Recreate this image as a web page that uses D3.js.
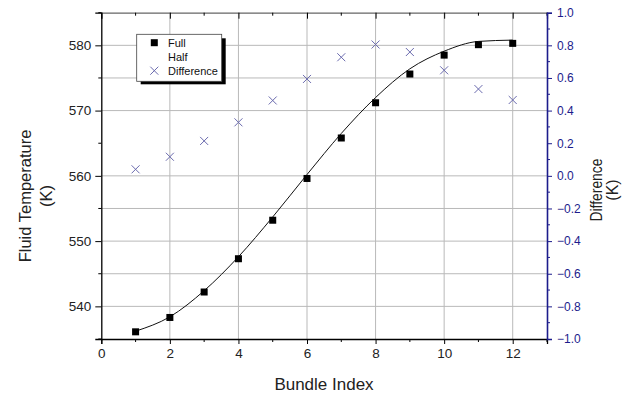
<!DOCTYPE html>
<html>
<head>
<meta charset="utf-8">
<script src="https://cdn.jsdelivr.net/npm/d3@7"></script>
<style>
  body { margin: 0; background: #fff; }
  svg { display: block; font-family: Arial, "Liberation Sans", sans-serif; }
</style>
</head>
<body>
<svg id="chart" width="631" height="395"></svg>
<script>
// values
const bundles = [1, 2, 3, 4, 5, 6, 7, 8, 9, 10, 11, 12];
const fullTemp = [536.1, 538.3, 542.2, 547.3, 553.2, 559.6, 565.8, 571.2, 575.6, 578.5, 580.1, 580.3];
const halfTemp = [536.2, 538.4, 542.4, 547.6, 553.7, 560.2, 566.5, 572.0, 576.4, 579.1, 580.6, 580.8];
const difference = [0.04, 0.117, 0.214, 0.328, 0.462, 0.594, 0.727, 0.805, 0.759, 0.647, 0.532, 0.465];

const xTicks = [0, 2, 4, 6, 8, 10, 12];
const xMinor = [1, 3, 5, 7, 9, 11, 13];
const leftTicks = [540, 550, 560, 570, 580];
const leftMinor = [535, 545, 555, 565, 575, 585];
const rightTicks = [-1.0, -0.8, -0.6, -0.4, -0.2, 0.0, 0.2, 0.4, 0.6, 0.8, 1.0];
const rightMinor = [-0.9, -0.7, -0.5, -0.3, -0.1, 0.1, 0.3, 0.5, 0.7, 0.9];
const gridRight = [-0.8, -0.6, -0.4, -0.2, 0.0, 0.4, 0.6, 0.8];
const legendItems = ["Full", "Half", "Difference"];

const NAVY = "#1c1c8c";
const GRID = "#b9b9b9";
const XMARK = "#6a6aae";

const svg = d3.select("#chart");
const plotL = 101.3, plotR = 547, plotT = 12.7, plotB = 339;

const x = d3.scaleLinear().domain([0, 13]).range([plotL, plotR]);
const yL = d3.scaleLinear().domain([535, 585]).range([plotB, plotT]);
const yR = d3.scaleLinear().domain([-1, 1]).range([plotB, plotT]);

// grid
const grid = svg.append("g").attr("stroke", GRID).attr("stroke-width", 1);
grid.selectAll("line.v").data(xTicks.filter(d => d > 0))
  .join("line").attr("class", "v")
  .attr("x1", d => x(d)).attr("x2", d => x(d))
  .attr("y1", plotT).attr("y2", plotB);
grid.selectAll("line.h").data(gridRight)
  .join("line").attr("class", "h")
  .attr("x1", plotL).attr("x2", plotR)
  .attr("y1", d => yR(d)).attr("y2", d => yR(d));

// half line (smooth curve)
const line = d3.line()
  .x((d, i) => x(bundles[i]))
  .y(d => yL(d))
  .curve(d3.curveMonotoneX);
svg.append("path")
  .datum(halfTemp)
  .attr("d", line)
  .attr("fill", "none")
  .attr("stroke", "#111")
  .attr("stroke-width", 1);

// full squares
svg.append("g").selectAll("rect")
  .data(fullTemp)
  .join("rect")
  .attr("x", (d, i) => x(bundles[i]) - 3.5)
  .attr("y", d => yL(d) - 3.5)
  .attr("width", 7).attr("height", 7)
  .attr("fill", "#000");

// difference crosses
const cross = (g, cx, cy, r) => {
  g.append("path")
    .attr("d", `M${cx - r},${cy - r}L${cx + r},${cy + r}M${cx - r},${cy + r}L${cx + r},${cy - r}`)
    .attr("stroke", XMARK).attr("stroke-width", 1).attr("fill", "none");
};
const crossG = svg.append("g");
difference.forEach((d, i) => cross(crossG, x(bundles[i]), yR(d), 4));

// axes
const font = "13.5px";
const bottomAxis = svg.append("g").attr("transform", `translate(0,${plotB})`)
  .call(d3.axisBottom(x).tickValues(xTicks).tickSize(5).tickPadding(4).tickFormat(d3.format("d")));
bottomAxis.selectAll(".tick text").attr("font-size", font).attr("fill", "#222");
bottomAxis.append("g").selectAll("line").data(xMinor).join("line")
  .attr("x1", d => x(d)).attr("x2", d => x(d)).attr("y1", 0).attr("y2", 3).attr("stroke", "#000");

const topAxis = svg.append("g").attr("transform", `translate(0,${plotT})`)
  .call(d3.axisTop(x).tickValues(xTicks).tickSize(-6).tickFormat(""));
topAxis.select(".domain").attr("stroke", "#666");
topAxis.append("g").selectAll("line").data(xMinor).join("line")
  .attr("x1", d => x(d)).attr("x2", d => x(d)).attr("y1", 0).attr("y2", 3).attr("stroke", "#000");

const leftAxis = svg.append("g").attr("transform", `translate(${plotL},0)`)
  .call(d3.axisLeft(yL).tickValues(leftTicks).tickSize(6).tickPadding(4));
leftAxis.selectAll(".tick text").attr("font-size", font).attr("fill", "#222");
leftAxis.append("g").selectAll("line").data(leftMinor).join("line")
  .attr("x1", -3).attr("x2", 0).attr("y1", d => yL(d)).attr("y2", d => yL(d)).attr("stroke", "#000");

const rightAxis = svg.append("g").attr("transform", `translate(${plotR},0)`)
  .call(d3.axisRight(yR).tickValues(rightTicks).tickSize(5).tickPadding(5).tickFormat(d3.format(".1f")));
rightAxis.selectAll(".tick line").attr("stroke", NAVY);
rightAxis.selectAll(".tick text").attr("font-size", "12px").attr("fill", NAVY);
rightAxis.append("g").selectAll("line").data(rightMinor).join("line")
  .attr("x1", 0).attr("x2", 3).attr("y1", d => yR(d)).attr("y2", d => yR(d)).attr("stroke", NAVY);

svg.selectAll(".domain").attr("stroke-width", 1.3);
rightAxis.select(".domain").attr("stroke", NAVY).attr("stroke-width", 1.6);

// titles
svg.append("text")
  .attr("x", 324).attr("y", 390)
  .attr("text-anchor", "middle").attr("font-size", "17px").attr("fill", "#222")
  .text("Bundle Index");

const leftTitle = svg.append("text")
  .attr("transform", "translate(0,196) rotate(-90)")
  .attr("text-anchor", "middle").attr("font-size", "16.5px").attr("fill", "#222");
leftTitle.append("tspan").attr("x", 0).attr("y", 31).text("Fluid Temperature");
leftTitle.append("tspan").attr("x", 0).attr("y", 52).text("(K)");

const rightTitle = svg.append("text")
  .attr("transform", "translate(0,190) rotate(-90)")
  .attr("text-anchor", "middle").attr("font-size", "16px").attr("fill", "#222");
rightTitle.append("tspan").attr("x", 0).attr("y", 602)
  .attr("textLength", 63).attr("lengthAdjust", "spacingAndGlyphs").text("Difference");
rightTitle.append("tspan").attr("x", 0).attr("y", 618).text("(K)");

// legend
const lg = svg.append("g");
lg.append("rect").attr("x", 140.7).attr("y", 38.3).attr("width", 85).attr("height", 46).attr("fill", "#000");
lg.append("rect").attr("x", 136.7).attr("y", 34.3).attr("width", 85).attr("height", 47)
  .attr("fill", "#fff").attr("stroke", "#444").attr("stroke-width", 0.8);
legendItems.forEach((name, i) => {
  const cy = 42.7 + i * 14;
  lg.append("text").attr("x", 168).attr("y", cy + 4).attr("font-size", "11px").attr("fill", "#111").text(name);
});
lg.append("rect").attr("x", 154.3 - 3.5).attr("y", 42.7 - 3.5).attr("width", 7).attr("height", 7).attr("fill", "#000");
cross(lg, 154.3, 70.7, 4);
</script>
</body>
</html>
